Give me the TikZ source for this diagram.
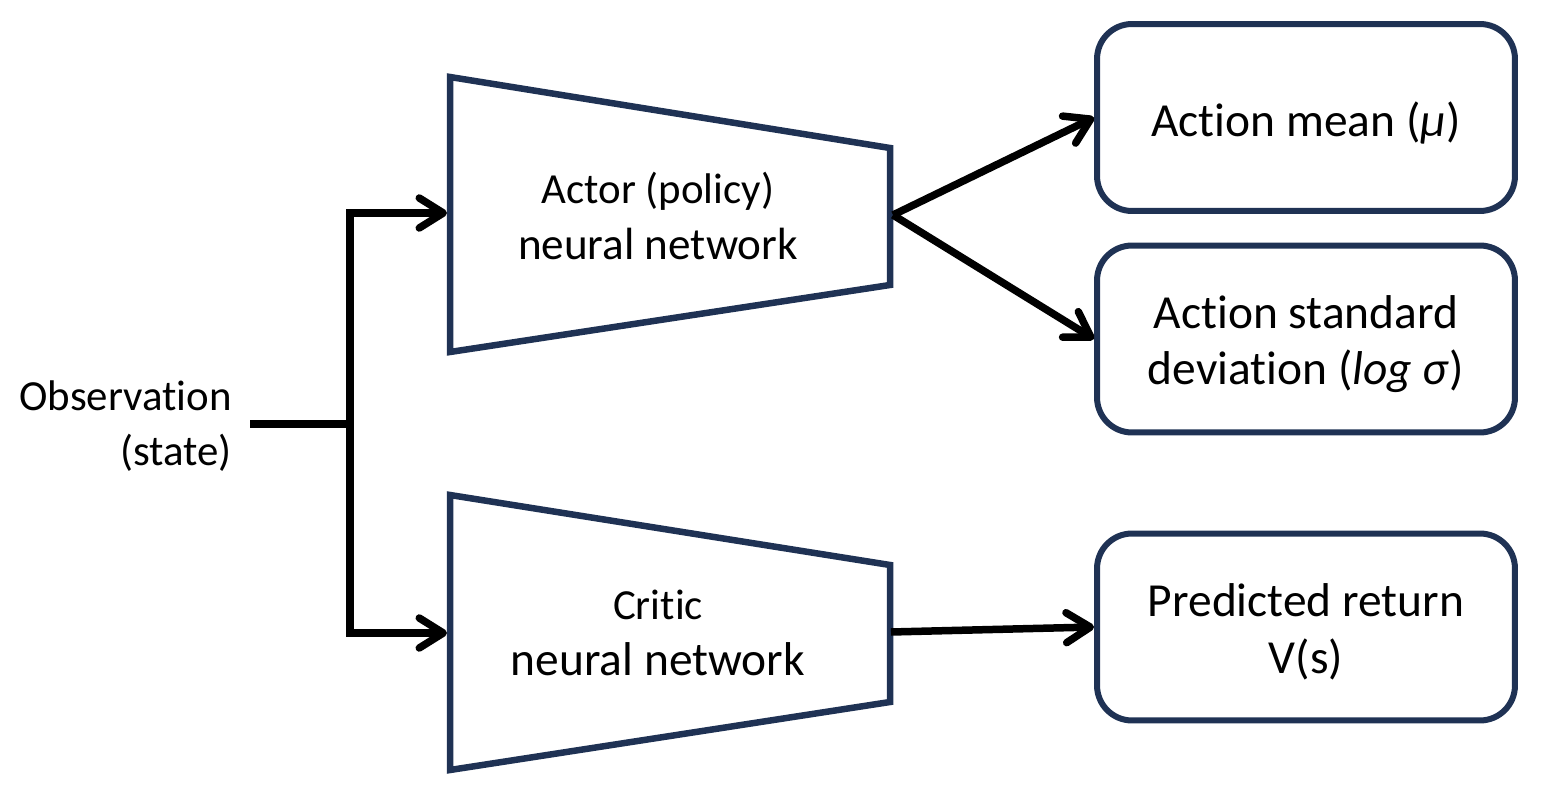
\documentclass[tikz,border=0pt]{standalone}
\usepackage{fontspec}
\setmainfont{Carlito}[Ligatures={NoCommon,NoContextual}]
\usetikzlibrary{arrows.meta}
\definecolor{navy}{RGB}{31,50,84}
\begin{document}
\begin{tikzpicture}[x=0.02cm,y=-0.02cm,
  conn/.style={line width=0.15cm, line join=miter,
    -{Straight Barb[length=0.48cm,width=0.6cm,line cap=round,line join=round]}},
  plain/.style={line width=0.15cm, line join=miter},
  net/.style={draw=navy, line width=0.13cm, line join=miter},
  box/.style={draw=navy, line width=0.12cm, rounded corners=0.7cm,
    minimum width=8.36cm, minimum height=3.74cm, inner sep=0pt},
  boxtxt/.style={align=center, inner sep=0pt, yshift=-0.1cm,
    font=\fontsize{27}{32.3}\selectfont},
  lbl/.style={inner sep=0pt, align=center}]
\useasboundingbox (0,0) rectangle (1562,800);

% networks
\draw[net] (450,77) -- (890,148) -- (890,285) -- (450,352) -- cycle;
\draw[net] (450,495) -- (890,565) -- (890,702) -- (450,770) -- cycle;
\node[lbl, font=\fontsize{25}{31.7}\selectfont] (actorTxt) at (658,216)
  {\fontsize{24.4}{31.7}\selectfont Actor (policy)\\\fontsize{25.7}{31.7}\selectfont neural network};
\node[lbl, font=\fontsize{25}{31.7}\selectfont] (criticTxt) at (658,633)
  {\fontsize{24.4}{31.7}\selectfont Critic\\\fontsize{27}{31.7}\selectfont neural network};
\coordinate (actorIn) at (447,213);
\coordinate (actorOut) at (893,215);
\coordinate (criticIn) at (447,633);
\coordinate (criticOut) at (891,632);

% outputs
\node[box, label={[boxtxt]center:Action mean (\textit{μ})}] (mean) at (1306,117.5) {};
\node[box, label={[boxtxt]center:Action standard\\deviation (\textit{log σ})}] (std) at (1306,339) {};
\node[box, label={[boxtxt]center:Predicted return\\V(s)}] (pred) at (1306,627) {};

% observation
\node[lbl, align=right, anchor=east, font=\fontsize{24.4}{31}\selectfont] (obs) at (232,426)
  {Observation\\(state)};
\coordinate (obsOut) at (250,424);
\coordinate (split) at (350,424);

\draw[plain] (obsOut) -- (split);
\draw[conn] (split) |- (actorIn);
\draw[conn] (split) |- (criticIn);
\draw[conn] (actorOut) -- (mean.west);
\draw[conn] (actorOut) -- (std.west);
\draw[conn] (criticOut) -- (pred.west);
\end{tikzpicture}
\end{document}
